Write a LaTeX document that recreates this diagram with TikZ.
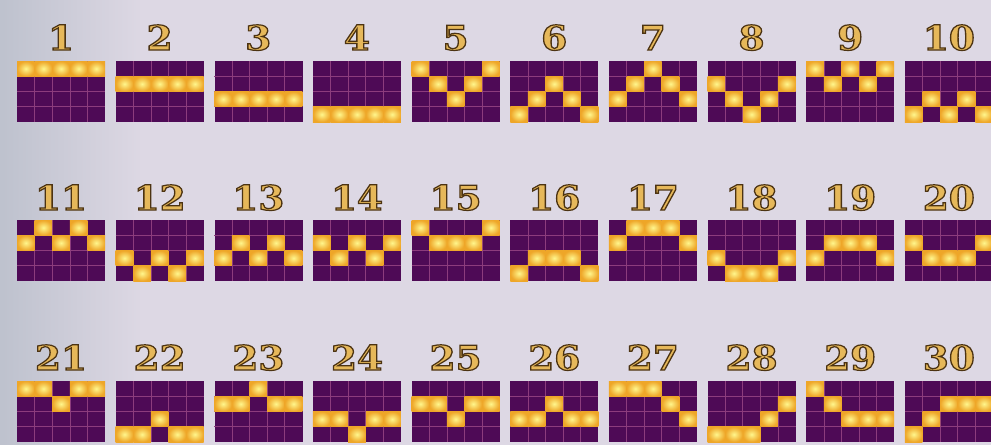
\documentclass[tikz,border=0pt]{standalone}
\usepackage{fontspec}
\setmainfont{DejaVu Serif}
\usetikzlibrary{calc,fadings}
\definecolor{bgcol}{RGB}{221,216,228}
\definecolor{bgleft}{RGB}{190,194,206}
\definecolor{gridpurple}{RGB}{78,10,86}
\definecolor{gridline}{RGB}{140,60,125}
\definecolor{litin}{RGB}{255,246,140}
\definecolor{litout}{RGB}{238,166,40}
\definecolor{numgold}{RGB}{230,184,90}
\newcommand{\outlinedtext}[1]{\special{pdf:literal direct 2 Tr 1.2 w 0.30 0.20 0.07 RG}#1\special{pdf:literal direct 0 Tr 0.4 w}}
\tikzset{
  gridbox/.style={rectangle,inner sep=0pt,minimum width=88pt,minimum height=61pt,fill=gridpurple,draw=none},
  gridln/.style={draw=gridline,line width=0.6pt},
  litcell/.style={inner color=litin,outer color=litout},
  numlabel/.style={inner sep=0pt,text=numgold,font=\fontsize{34}{38}\selectfont\bfseries,transform shape,xscale=1.1}
}
\begin{document}
\begin{tikzpicture}[x=1pt,y=-1pt]
\useasboundingbox (0,0) rectangle (991,445);
\begin{scope}
\clip (0,0) rectangle (991,445);
\fill[bgcol] (0,0) rectangle (991,445);
\fill[bgleft,path fading=east] (0,0) rectangle (140,445);
\foreach \n/\va/\vb/\vc/\vd/\ve in {
 1/0/0/0/0/0, 2/1/1/1/1/1, 3/2/2/2/2/2, 4/3/3/3/3/3, 5/0/1/2/1/0,
 6/3/2/1/2/3, 7/2/1/0/1/2, 8/1/2/3/2/1, 9/0/1/0/1/0, 10/3/2/3/2/3,
 11/1/0/1/0/1, 12/2/3/2/3/2, 13/2/1/2/1/2, 14/1/2/1/2/1, 15/0/1/1/1/0,
 16/3/2/2/2/3, 17/1/0/0/0/1, 18/2/3/3/3/2, 19/2/1/1/1/2, 20/1/2/2/2/1,
 21/0/0/1/0/0, 22/3/3/2/3/3, 23/1/1/0/1/1, 24/2/2/3/2/2, 25/1/1/2/1/1,
 26/2/2/1/2/2, 27/0/0/0/1/2, 28/3/3/3/2/1, 29/0/1/2/2/2, 30/3/2/1/1/1}{
  \pgfmathtruncatemacro\gr{int((\n-1)/10)}
  \pgfmathtruncatemacro\gc{mod(\n-1,10)}
  \pgfmathsetmacro\T{{61,220,381}[\gr]}
  \pgfmathsetmacro\B{{50,210,370}[\gr]}
  \pgfmathsetmacro\L{17+98.65*\gc}
  \node[gridbox,anchor=north west] (g\n) at (\L,\T) {};
  \foreach \i in {1,...,4}
    \draw[gridln] ($(g\n.north west)+(\i*17.6,0)$) -- ++(0,61);
  \foreach \j in {1,2,3}
    \draw[gridln] ($(g\n.north west)+(0,\j*15.25)$) -- ++(88,0);
  \foreach \k/\v in {0/\va,1/\vb,2/\vc,3/\vd,4/\ve}
    \shade[litcell] ($(g\n.north west)+(\k*17.6,\v*15.25)$) rectangle +(17.6,15.25);
  \node[numlabel,anchor=base] (n\n) at (\L+44,\B) {\outlinedtext{\n}};
}
\end{scope}
\end{tikzpicture}
\end{document}
